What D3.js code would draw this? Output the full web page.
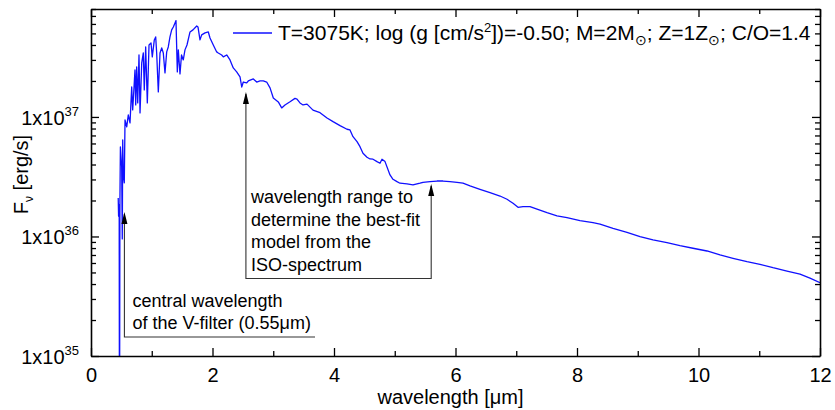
<!DOCTYPE html>
<html>
<head>
<meta charset="utf-8">
<script src="https://cdn.jsdelivr.net/npm/d3@7"></script>
<style>
  body { margin: 0; background: #fff; }
  text { font-family: Arial, "Liberation Sans", Helvetica, sans-serif; fill: #000; }
</style>
</head>
<body>
<svg id="chart" width="835" height="410"></svg>
<script>
// Model spectrum: wavelength in micrometres, flux density in units of 1e37 erg/s
const UNIT = 1e37;
const wavelength = [
  0.448,0.454,0.464,0.469,0.476,0.484,0.505,0.515,0.522,0.532,
  0.548,0.560,0.588,0.614,0.642,0.670,0.686,0.696,0.724,0.736,
  0.752,0.769,0.790,0.807,0.835,0.861,0.877,0.900,0.927,0.955,
  0.988,1.009,1.042,1.065,1.081,1.108,1.136,1.164,1.190,1.218,
  1.246,1.272,1.300,1.328,1.355,1.383,1.399,1.421,1.437,1.465,
  1.490,1.519,1.547,1.580,1.630,1.679,1.740,1.761,1.794,1.822,
  1.877,1.931,1.959,2.013,2.069,2.095,2.151,2.178,2.234,2.288,
  2.342,2.398,2.453,2.481,2.507,2.563,2.589,2.672,2.728,2.782,
  2.836,2.892,2.947,3.001,3.083,3.139,3.193,3.276,3.358,3.391,
  3.440,3.490,3.556,3.654,3.770,3.885,3.984,4.099,4.214,4.263,
  4.313,4.379,4.428,4.477,4.543,4.593,4.642,4.708,4.757,4.790,
  4.840,4.922,4.971,5.037,5.086,5.202,5.300,5.416,5.465,5.580,
  5.695,5.794,5.909,6.025,6.123,6.239,6.403,6.568,6.733,6.848,
  6.947,7.029,7.111,7.226,7.342,7.506,7.671,7.835,8.049,8.263,
  8.379,8.593,8.823,9.037,9.251,9.481,9.695,9.909,10.140,10.354,
  10.568,10.798,11.012,11.226,11.457,11.671,11.835,12.0
];
const flux = [
  0.210,0.148,0.184,0.001,0.202,0.561,0.384,0.0953,0.642,0.327,
  0.281,0.944,0.825,1.039,0.891,1.782,1.144,1.388,2.473,1.260,
  2.620,1.310,3.30,1.080,2.83,3.43,1.683,3.85,1.310,4.00,
  4.16,3.18,4.41,4.67,3.43,1.619,3.43,3.78,3.43,2.333,
  3.50,3.85,4.67,5.35,5.66,6.12,6.40,2.38,3.64,2.29,
  3.30,3.00,3.64,4.00,5.14,5.35,5.77,5.66,4.41,4.86,
  5.05,5.14,4.58,4.00,3.50,3.43,3.30,3.18,3.30,3.00,
  2.57,2.38,2.16,1.78,1.96,1.93,2.00,2.08,1.96,2.00,
  2.00,1.96,1.75,1.44,1.335,1.19,1.26,1.34,1.43,1.41,
  1.31,1.26,1.28,1.14,1.086,0.981,0.913,0.846,0.789,0.778,
  0.684,0.621,0.564,0.497,0.460,0.445,0.443,0.423,0.410,0.443,
  0.423,0.327,0.301,0.2875,0.279,0.275,0.270,0.279,0.284,0.2875,
  0.291,0.291,0.2875,0.284,0.279,0.265,0.248,0.2325,0.218,0.2047,
  0.1895,0.1755,0.1775,0.1775,0.169,0.158,0.149,0.1437,0.1356,0.1304,
  0.127,0.117,0.1084,0.0996,0.0935,0.0888,0.0838,0.0797,0.0756,0.070,
  0.0657,0.0615,0.0585,0.0548,0.0514,0.0484,0.0448,0.0411
];

// Axis ticks
const xMajorTicks = [0, 2, 4, 6, 8, 10, 12];
const xMinorTicks = [1, 3, 5, 7, 9, 11];
const yMajorTicks = [1e35, 1e36, 1e37];
const yMajorExponents = ["35", "36", "37"];
const yMinorTicks = [2,3,4,5,6,7,8,9].flatMap(m => [m * 1e35, m * 1e36, m * 1e37]).filter(v => v <= 8e37);

// Annotation anchors (micrometres)
const vFilterCentre = 0.55;
const fitRange = [2.55, 5.6];

const margin = { left: 91, right: 15, top: 9, bottom: 54 };
const W = 835, H = 410;
const svg = d3.select("#chart");

const x = d3.scaleLinear().domain([0, 12]).range([margin.left, W - margin.right]);
const y = d3.scaleLog().domain([1e35, 8e37]).range([H - margin.bottom, margin.top]);
const x0 = x.range()[0], x1 = x.range()[1], y0 = y.range()[0], y1 = y.range()[1];

svg.append("defs").append("clipPath").attr("id", "plotClip")
  .append("rect").attr("x", x0).attr("y", y1).attr("width", x1 - x0).attr("height", y0 - y1);

// Spectrum
const points = wavelength.map((w, i) => [w, flux[i] * UNIT]);
svg.append("path")
  .datum(points)
  .attr("clip-path", "url(#plotClip)")
  .attr("fill", "none")
  .attr("stroke", "#1010ff")
  .attr("stroke-width", 1.3)
  .attr("stroke-linejoin", "round")
  .attr("d", d3.line().x(d => x(d[0])).y(d => y(d[1])));

// Axes with inward ticks on all four sides
function styleAxis(g) {
  g.selectAll(".domain").attr("stroke", "#000").attr("stroke-width", 1.6);
  g.selectAll(".tick line").attr("stroke", "#000").attr("stroke-width", 1.3);
}
const MAJ = 8, MIN = 5;

const bottom = svg.append("g").attr("transform", `translate(0,${y0})`)
  .call(d3.axisBottom(x).tickValues(xMajorTicks).tickSizeInner(-MAJ).tickSizeOuter(0)
    .tickPadding(12).tickFormat(d3.format("d")))
  .call(styleAxis);
bottom.selectAll(".tick text").attr("font-size", 20).attr("font-family", "Arial, 'Liberation Sans', sans-serif");
svg.append("g").attr("transform", `translate(0,${y0})`)
  .call(d3.axisBottom(x).tickValues(xMinorTicks).tickSize(-MIN).tickFormat(""))
  .call(styleAxis).select(".domain").remove();

svg.append("g").attr("transform", `translate(0,${y1})`)
  .call(d3.axisTop(x).tickValues(xMajorTicks).tickSizeInner(-MAJ).tickSizeOuter(0).tickFormat(""))
  .call(styleAxis);
svg.append("g").attr("transform", `translate(0,${y1})`)
  .call(d3.axisTop(x).tickValues(xMinorTicks).tickSize(-MIN).tickFormat(""))
  .call(styleAxis).select(".domain").remove();

const left = svg.append("g").attr("transform", `translate(${x0},0)`)
  .call(d3.axisLeft(y).tickValues(yMajorTicks).tickSizeInner(-MAJ).tickSizeOuter(0).tickPadding(12).tickFormat(""))
  .call(styleAxis);
left.selectAll(".tick text")
  .attr("font-size", 20).attr("font-family", "Arial, 'Liberation Sans', sans-serif")
  .attr("dy", "0.37em")
  .each(function(d, i) {
    const t = d3.select(this);
    t.append("tspan").text("1x10");
    t.append("tspan").attr("font-size", 13).attr("dy", -9).text(yMajorExponents[i]);
  });
svg.append("g").attr("transform", `translate(${x0},0)`)
  .call(d3.axisLeft(y).tickValues(yMinorTicks).tickSize(-MIN).tickFormat(""))
  .call(styleAxis).select(".domain").remove();

svg.append("g").attr("transform", `translate(${x1},0)`)
  .call(d3.axisRight(y).tickValues(yMajorTicks).tickSizeInner(-MAJ).tickSizeOuter(0).tickFormat(""))
  .call(styleAxis);
svg.append("g").attr("transform", `translate(${x1},0)`)
  .call(d3.axisRight(y).tickValues(yMinorTicks).tickSize(-MIN).tickFormat(""))
  .call(styleAxis).select(".domain").remove();

// Axis titles
svg.append("text")
  .attr("x", (x0 + x1) / 2 - 5).attr("y", 404)
  .attr("text-anchor", "middle").attr("font-size", 20)
  .text("wavelength [\u03bcm]");

const yTitle = svg.append("text")
  .attr("transform", `translate(28,${(y0 + y1) / 2 - 8}) rotate(-90)`)
  .attr("text-anchor", "middle").attr("font-size", 20);
yTitle.append("tspan").text("F");
yTitle.append("tspan").attr("font-size", 12).attr("dy", 5).text("\u03bd");
yTitle.append("tspan").attr("dy", -5).text(" [erg/s]");

// Legend
const legY = 33;
svg.append("line").attr("x1", 233).attr("x2", 272).attr("y1", legY).attr("y2", legY)
  .attr("stroke", "#1010ff").attr("stroke-width", 1.3);
const leg = svg.append("text").attr("x", 278).attr("y", legY + 7).attr("font-size", 21);
leg.append("tspan").text("T=3075K; log (g [cm/s");
leg.append("tspan").attr("font-size", 13).attr("dy", -8).text("2");
leg.append("tspan").attr("dy", 8).text("])=-0.50; M=2M");
leg.append("tspan").attr("font-size", 14).attr("dy", 5).text("\u2299");
leg.append("tspan").attr("dy", -5).text("; Z=1Z");
leg.append("tspan").attr("font-size", 14).attr("dy", 5).text("\u2299");
leg.append("tspan").attr("dy", -5).text("; C/O=1.4");

// Callouts
const ann = svg.append("g");
function arrowUp(px, tipY) {
  ann.append("path")
    .attr("d", `M${px},${tipY} L${px - 3},${tipY + 12} L${px + 3},${tipY + 12} Z`)
    .attr("fill", "#000");
}
const lineStyle = s => s.attr("fill", "none").attr("stroke", "#333").attr("stroke-width", 1.1);

const vx = x(vFilterCentre);
ann.append("path").attr("d", `M${vx},${214} V337 H315`).call(lineStyle);
arrowUp(vx, 212);

const rx0 = x(fitRange[0]), rx1 = x(fitRange[1]);
ann.append("path").attr("d", `M${rx0},${94} V278.5 H${rx1} V${186}`).call(lineStyle);
arrowUp(rx0, 92);
arrowUp(rx1, 184);

const vText = ann.append("text").attr("font-size", 18);
["central wavelength", "of the V-filter (0.55\u03bcm)"].forEach((s, i) =>
  vText.append("tspan").attr("x", 132.5).attr("y", 306.5 + i * 22).text(s));

const rText = ann.append("text").attr("font-size", 18);
["wavelength range to", "determine the best-fit", "model from the", "ISO-spectrum"].forEach((s, i) =>
  rText.append("tspan").attr("x", 251).attr("y", 203 + i * 22.5).text(s));
</script>
</body>
</html>
